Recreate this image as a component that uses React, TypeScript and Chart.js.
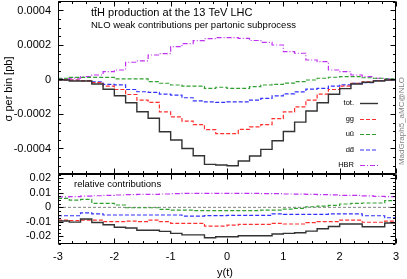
import React, { useEffect, useRef } from 'react';
import { Chart, registerables } from 'chart.js';

Chart.register(...registerables);

// ---------------- data ----------------
const binEdges = [-3, -2.8, -2.6, -2.4, -2.2, -2, -1.8, -1.6, -1.4, -1.2, -1, -0.8, -0.6, -0.4, -0.2, 0, 0.2, 0.4, 0.6, 0.8, 1, 1.2, 1.4, 1.6, 1.8, 2, 2.2, 2.4, 2.6, 2.8, 3];

const totValues = [-0.000003, -0.000009, -0.000009, -0.000026, -0.000057, -0.000094, -0.000135, -0.000187, -0.000225, -0.000303, -0.000351, -0.0004, -0.000442, -0.000492, -0.000496, -0.0005, -0.000473, -0.000444, -0.000405, -0.000355, -0.000302, -0.000247, -0.000183, -0.000135, -0.000086, -0.000053, -0.000026, -0.000016, -0.000009, -0.000003];
const ggValues = [-0.000002, -0.000004, -0.000008, -0.000018, -0.000038, -0.000058, -0.000087, -0.00012, -0.000133, -0.000188, -0.000217, -0.000241, -0.000262, -0.000291, -0.000314, -0.000314, -0.000289, -0.000275, -0.000262, -0.000227, -0.000188, -0.000159, -0.00012, -0.000085, -0.000058, -0.000038, -0.000022, -0.000014, -0.000006, -0.000003];
const uuValues = [0.000007, 0.000012, 0.000012, 0.000012, 0.000012, 0.000003, 0.000003, 0.000003, -0.000013, -0.000022, -0.000032, -0.000038, -0.000038, -0.000051, -0.000045, -0.000051, -0.000051, -0.000042, -0.000032, -0.000028, -0.000021, -0.000013, -0.000003, 0.000007, 0.000013, 0.000016, 0.000016, 0.00001, 0.000007, 0.000003];
const ddValues = [-0.000001, -0.000003, -0.000006, -0.000014, -0.000028, -0.000031, -0.000058, -0.000071, -0.000075, -0.000085, -0.000091, -0.000106, -0.000124, -0.00013, -0.000133, -0.00013, -0.00013, -0.00012, -0.00011, -0.000095, -0.000083, -0.000072, -0.000056, -0.000052, -0.000038, -0.000031, -0.000023, -0.000018, -0.000006, -0.000003];
const hbrValues = [0.000003, 0.000008, 0.000016, 0.000026, 0.000045, 0.000055, 0.0001, 0.000108, 0.000142, 0.00015, 0.00019, 0.000208, 0.000225, 0.000237, 0.000243, 0.000243, 0.000238, 0.000226, 0.000215, 0.0002, 0.000161, 0.000152, 0.000113, 0.000103, 0.000055, 0.000045, 0.000026, 0.000016, 0.000007, 0.000003];

const totRatio = [-0.0094, -0.0102, -0.008, -0.0105, -0.012, -0.0137, -0.0143, -0.0158, -0.0158, -0.0166, -0.018, -0.019, -0.019, -0.021, -0.0203, -0.0203, -0.0196, -0.0196, -0.0196, -0.0184, -0.018, -0.0175, -0.0164, -0.0148, -0.0132, -0.0115, -0.0115, -0.0134, -0.0134, -0.0108];
const ggRatio = [-0.0088, -0.0092, -0.0088, -0.0088, -0.0099, -0.0099, -0.0095, -0.0099, -0.0088, -0.0099, -0.011, -0.011, -0.011, -0.0129, -0.0129, -0.0123, -0.0117, -0.0117, -0.0117, -0.011, -0.0115, -0.0115, -0.0106, -0.0099, -0.0099, -0.0088, -0.0088, -0.0103, -0.0103, -0.0095];
const uuRatio = [0.0062, 0.005, 0.0055, 0.0028, 0.0028, 0.0016, -0.0003, -0.0003, -0.0003, -0.0014, -0.0019, -0.0019, -0.0023, -0.0023, -0.0023, -0.0023, -0.0023, -0.0023, -0.0019, -0.0019, -0.0012, -0.0007, 0.0004, 0.0009, 0.0014, 0.0023, 0.0028, 0.003, 0.003, 0.0046];
const ddRatio = [-0.0058, -0.0058, -0.0038, -0.0045, -0.0053, -0.0053, -0.0053, -0.0053, -0.0053, -0.0053, -0.0053, -0.006, -0.006, -0.0057, -0.0057, -0.0055, -0.0055, -0.0055, -0.0055, -0.0045, -0.0048, -0.0048, -0.0048, -0.0048, -0.0045, -0.0045, -0.0045, -0.0058, -0.0058, -0.0072];
const hbrRatio = [0.0072, 0.0074, 0.0078, 0.008, 0.0083, 0.0085, 0.0087, 0.0089, 0.009, 0.0092, 0.0094, 0.0096, 0.0097, 0.0097, 0.0097, 0.0097, 0.0097, 0.0096, 0.0095, 0.0094, 0.0092, 0.0091, 0.009, 0.0088, 0.0086, 0.0083, 0.0082, 0.0079, 0.0076, 0.0074];
const zeroRatio = [0];

const seriesLabels = ['tot.', 'gg', 'u\u016B', 'dd\u0304', 'HBR'];

const xTicks = [-3, -2, -1, 0, 1, 2, 3];
const xTickLabels = ['-3', '-2', '-1', '0', '1', '2', '3'];
const yTopTicks = [-0.0004, -0.0002, 0, 0.0002, 0.0004];
const yTopTickLabels = ['-0.0004', '-0.0002', '0', '0.0002', '0.0004'];
const yBotTicks = [-0.02, -0.01, 0, 0.01, 0.02];
const yBotTickLabels = ['-0.02', '-0.01', '0', '0.01', '0.02'];

// ---------------- styles ----------------
const FONT = "'Liberation Sans', Arial, Helvetica, sans-serif";
const COLORS = ['#333333', '#ff3030', '#30a030', '#3030ff', '#c030f0'];
const DASHES: number[][] = [[], [4, 2], [4, 2], [4, 2], [5, 2, 1, 2]];
const WIDTHS = [1.4, 1.2, 1.2, 1.2, 1.2];

const TOP_MIN = -0.000548;
const TOP_MAX = 0.000455;
const BOT_MIN = -0.0253;
const BOT_MAX = 0.023;

function stepData(values: number[]) {
  return binEdges.map((x, i) => ({ x, y: values[Math.min(i, values.length - 1)] }));
}

function makeDatasets(list: number[][]) {
  return list.map((vals, i) => ({
    label: seriesLabels[i],
    data: stepData(vals),
    borderColor: COLORS[i],
    borderDash: DASHES[i],
    borderWidth: WIDTHS[i],
    stepped: 'before' as const,
    pointRadius: 0,
    fill: false,
    tension: 0,
  }));
}

function labelFor(ticks: number[], labels: string[], v: number) {
  const i = ticks.findIndex((t) => Math.abs(t - v) < 1e-12);
  return i >= 0 ? labels[i] : '';
}

function framePlugin(yMajor: number, yMinor: number) {
  return {
    id: 'frameTicks',
    afterDraw(chart: any) {
      const { ctx, chartArea: a } = chart;
      const xs = chart.scales.x;
      const ys = chart.scales.y;
      const L = Math.round(a.left) + 0.5;
      const R = Math.round(a.right) - 0.5;
      const T = Math.round(a.top) + 0.5;
      const B = Math.round(a.bottom) - 0.5;
      ctx.save();
      ctx.strokeStyle = '#000';
      ctx.lineWidth = 1;
      ctx.setLineDash([]);
      ctx.beginPath();
      ctx.rect(L, T, R - L, B - T);
      for (let k = -12; k <= 12; k++) {
        const major = k % 4 === 0;
        const len = major ? 5 : 2.5;
        const px = Math.round(xs.getPixelForValue(k / 4)) + 0.5;
        ctx.moveTo(px, B);
        ctx.lineTo(px, B - len);
        ctx.moveTo(px, T);
        ctx.lineTo(px, T + len);
      }
      const kmin = Math.ceil(ys.min / yMinor - 1e-9);
      const kmax = Math.floor(ys.max / yMinor + 1e-9);
      const ratio = Math.round(yMajor / yMinor);
      for (let k = kmin; k <= kmax; k++) {
        const major = k % ratio === 0;
        const len = major ? 5 : 2.5;
        const py = Math.round(ys.getPixelForValue(k * yMinor)) + 0.5;
        ctx.moveTo(L, py);
        ctx.lineTo(L + len, py);
        ctx.moveTo(R, py);
        ctx.lineTo(R - len, py);
      }
      ctx.stroke();
      ctx.restore();
    },
  };
}

const topTextPlugin = {
  id: 'topText',
  afterDraw(chart: any) {
    const { ctx } = chart;
    ctx.save();
    ctx.fillStyle = '#000';
    ctx.textBaseline = 'middle';
    ctx.textAlign = 'left';
    ctx.font = `11px ${FONT}`;
    ctx.fillText('tt\u0304H production at the 13 TeV LHC', 91, 13);
    ctx.font = `9.5px ${FONT}`;
    ctx.fillText('NLO weak contributions per partonic subprocess', 91, 25.5);

    // legend
    const rows = [103, 119, 134, 149.5, 165];
    ctx.font = `7.5px ${FONT}`;
    ctx.textAlign = 'right';
    chart.data.datasets.forEach((ds: any, i: number) => {
      const y = rows[i];
      ctx.fillStyle = '#000';
      ctx.fillText(ds.label, 354, y);
      ctx.strokeStyle = ds.borderColor;
      ctx.lineWidth = ds.borderWidth;
      ctx.setLineDash(ds.borderDash);
      ctx.beginPath();
      ctx.moveTo(360, y + 0.5);
      ctx.lineTo(378, y + 0.5);
      ctx.stroke();
    });
    ctx.setLineDash([]);

    // y title
    ctx.save();
    ctx.translate(8.5, 89);
    ctx.rotate(-Math.PI / 2);
    ctx.textAlign = 'center';
    ctx.fillStyle = '#000';
    ctx.font = `11px ${FONT}`;
    ctx.fillText('\u03C3 per bin [pb]', 0, 0);
    ctx.restore();

    // generator tag
    ctx.save();
    ctx.translate(401.5, 121);
    ctx.rotate(-Math.PI / 2);
    ctx.textAlign = 'center';
    ctx.fillStyle = '#808080';
    ctx.font = `8px ${FONT}`;
    ctx.fillText('MadGraph5_aMC@NLO', 0, 0);
    ctx.restore();
    ctx.restore();
  },
};

const botTextPlugin = {
  id: 'botText',
  afterDraw(chart: any) {
    const { ctx } = chart;
    ctx.save();
    ctx.fillStyle = '#000';
    ctx.textBaseline = 'middle';
    ctx.textAlign = 'left';
    ctx.font = `9.5px ${FONT}`;
    ctx.fillText('relative contributions', 74, 14);
    ctx.textAlign = 'center';
    ctx.font = `11px ${FONT}`;
    ctx.fillText('y(t)', 225, 103);
    ctx.restore();
  },
};

export default function App() {
  const topRef = useRef<HTMLCanvasElement>(null);
  const botRef = useRef<HTMLCanvasElement>(null);

  useEffect(() => {
    Chart.defaults.font.family = FONT;
    const topChart = new Chart(topRef.current as HTMLCanvasElement, {
      type: 'line',
      data: { datasets: makeDatasets([totValues, ggValues, uuValues, ddValues, hbrValues]) as any },
      options: {
        animation: false,
        responsive: false,
        maintainAspectRatio: false,
        layout: { padding: { left: 0, right: 11, top: 1, bottom: 2 } },
        plugins: { legend: { display: false }, tooltip: { enabled: false }, title: { display: false } },
        scales: {
          x: { type: 'linear', min: -3, max: 3, display: false },
          y: {
            type: 'linear',
            min: TOP_MIN,
            max: TOP_MAX,
            grid: { display: false, drawTicks: false },
            border: { display: false },
            afterBuildTicks: (s: any) => {
              s.ticks = yTopTicks.map((v) => ({ value: v }));
            },
            afterFit: (s: any) => {
              s.width = 58;
              s.paddingTop = 0;
              s.paddingBottom = 0;
            },
            ticks: {
              color: '#000',
              font: { size: 11, family: FONT },
              padding: 7,
              callback: (v: any) => labelFor(yTopTicks, yTopTickLabels, Number(v)),
            },
          },
        },
      } as any,
      plugins: [framePlugin(0.0002, 0.00005), topTextPlugin],
    });

    const botDatasets: any[] = makeDatasets([totRatio, ggRatio, uuRatio, ddRatio, hbrRatio]);
    botDatasets.push({
      label: 'zero',
      data: [
        { x: binEdges[0], y: zeroRatio[0] },
        { x: binEdges[binEdges.length - 1], y: zeroRatio[0] },
      ],
      borderColor: '#808080',
      borderDash: [3, 2],
      borderWidth: 1,
      pointRadius: 0,
      fill: false,
    });

    const botChart = new Chart(botRef.current as HTMLCanvasElement, {
      type: 'line',
      data: { datasets: botDatasets },
      options: {
        animation: false,
        responsive: false,
        maintainAspectRatio: false,
        layout: { padding: { left: 0, right: 11, top: 4, bottom: 0 } },
        plugins: { legend: { display: false }, tooltip: { enabled: false }, title: { display: false } },
        scales: {
          x: {
            type: 'linear',
            min: -3,
            max: 3,
            grid: { display: false, drawTicks: false },
            border: { display: false },
            afterBuildTicks: (s: any) => {
              s.ticks = xTicks.map((v) => ({ value: v }));
            },
            afterFit: (s: any) => {
              s.height = 35;
              s.paddingLeft = 0;
              s.paddingRight = 0;
            },
            ticks: {
              color: '#000',
              font: { size: 11, family: FONT },
              padding: 6,
              maxRotation: 0,
              autoSkip: false,
              callback: (v: any) => labelFor(xTicks, xTickLabels, Number(v)),
            },
          },
          y: {
            type: 'linear',
            min: BOT_MIN,
            max: BOT_MAX,
            grid: { display: false, drawTicks: false },
            border: { display: false },
            afterBuildTicks: (s: any) => {
              s.ticks = yBotTicks.map((v) => ({ value: v }));
            },
            afterFit: (s: any) => {
              s.width = 58;
              s.paddingTop = 0;
              s.paddingBottom = 0;
            },
            ticks: {
              color: '#000',
              font: { size: 11, family: FONT },
              padding: 7,
              callback: (v: any) => labelFor(yBotTicks, yBotTickLabels, Number(v)),
            },
          },
        },
      } as any,
      plugins: [framePlugin(0.01, 0.0025), botTextPlugin],
    });

    return () => {
      topChart.destroy();
      botChart.destroy();
    };
  }, []);

  return (
    <div style={{ position: 'fixed', left: 0, top: 0, width: 407, height: 279, background: '#fff', overflow: 'hidden' }}>
      <canvas ref={topRef} width={407} height={176} style={{ position: 'absolute', left: 0, top: 0, width: 407, height: 176 }} />
      <canvas ref={botRef} width={407} height={109} style={{ position: 'absolute', left: 0, top: 170, width: 407, height: 109 }} />
    </div>
  );
}
